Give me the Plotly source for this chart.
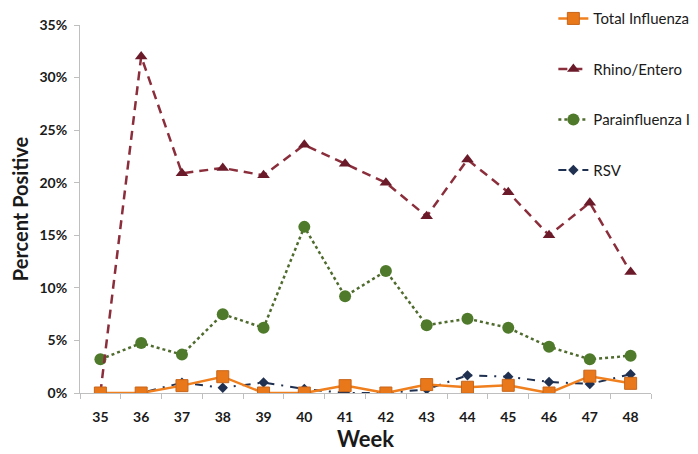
import plotly.graph_objects as go

weeks = ["35", "36", "37", "38", "39", "40", "41", "42", "43", "44", "45", "46", "47", "48"]
total_influenza = [0.0, 0.0, 0.7, 1.55, 0.0, 0.0, 0.7, 0.0, 0.8, 0.55, 0.73, 0.0, 1.6, 0.92]
rhino_entero = [0.0, 32.0, 20.9, 21.4, 20.7, 23.6, 21.8, 20.0, 16.8, 22.2, 19.1, 15.0, 18.1, 11.5]
parainfluenza = [3.2, 4.75, 3.65, 7.5, 6.2, 15.8, 9.2, 11.6, 6.45, 7.07, 6.2, 4.4, 3.2, 3.55]
rsv = [0.0, 0.0, 0.98, 0.5, 1.0, 0.38, 0.0, 0.0, 0.35, 1.68, 1.55, 1.05, 0.86, 1.78]

FONT = "Lato, Open Sans, DejaVu Sans, sans-serif"

fig = go.Figure()

fig.add_trace(go.Scatter(
    x=weeks, y=rsv, name="RSV", mode="lines+markers", legendgroup="d", legendrank=4,
    line=dict(color="#1F3050", width=2, dash="8px,7px,2px,7px"),
    marker=dict(symbol="diamond", size=8, color="#1F3050"),
))
fig.add_trace(go.Scatter(
    x=weeks, y=parainfluenza, name="Parainfluenza I", mode="lines+markers", legendgroup="c", legendrank=3,
    line=dict(color="#4F6B2E", width=2.5, dash="dot"),
    marker=dict(symbol="circle", size=12, color="#4F7A2B"),
))
fig.add_trace(go.Scatter(
    x=weeks, y=rhino_entero, name="Rhino/Entero", mode="lines+markers", legendgroup="b", legendrank=2,
    line=dict(color="#8B2E3C", width=2.5, dash="9px,6px"),
    marker=dict(symbol="triangle-up", size=11, color="#6B1A2A"),
))
fig.add_trace(go.Scatter(
    x=weeks, y=total_influenza, name="Total Influenza", mode="lines+markers", legendgroup="a", legendrank=1,
    line=dict(color="#F07F1E", width=2.5),
    marker=dict(symbol="square", size=12, color="#E8781A", line=dict(color="#C8651A", width=1)),
))

fig.update_layout(
    width=690, height=446,
    margin=dict(l=72, r=47, t=17, b=61, autoexpand=False),
    paper_bgcolor="white", plot_bgcolor="white",
    font=dict(family=FONT, color="#1a1a1a"),
    showlegend=True,
    legend=dict(
        x=0.829, y=1.062, xanchor="left", yanchor="top",
        traceorder="grouped", tracegroupgap=28, itemwidth=30,
        font=dict(size=15, color="#1a1a1a", family=FONT),
        bgcolor="rgba(0,0,0,0)",
    ),
    xaxis=dict(
        type="category", range=[-0.5, len(weeks) - 0.5], autorange=False,
        showgrid=False, showline=True, linecolor="#bfbfbf", linewidth=1,
        ticks="outside", ticklen=5, tickcolor="#bfbfbf", tickson="boundaries",
        ticklabelstandoff=11,
        tickfont=dict(size=14, family=FONT, color="#1a1a1a", weight="bold"),
        title=dict(text="<b>Week</b>", font=dict(size=22, family=FONT), standoff=5),
    ),
    yaxis=dict(
        range=[0, 35], dtick=5, ticksuffix="%", showgrid=False, zeroline=False,
        showline=True, linecolor="#bfbfbf", linewidth=1,
        ticks="outside", ticklen=5, tickcolor="#bfbfbf",
        ticklabelstandoff=4,
        tickfont=dict(size=14, color="#1a1a1a", family=FONT, weight="bold"),
        title=dict(text="<b>Percent Positive</b>", font=dict(size=20, family=FONT), standoff=10),
    ),
)

fig.write_html("out.html")
